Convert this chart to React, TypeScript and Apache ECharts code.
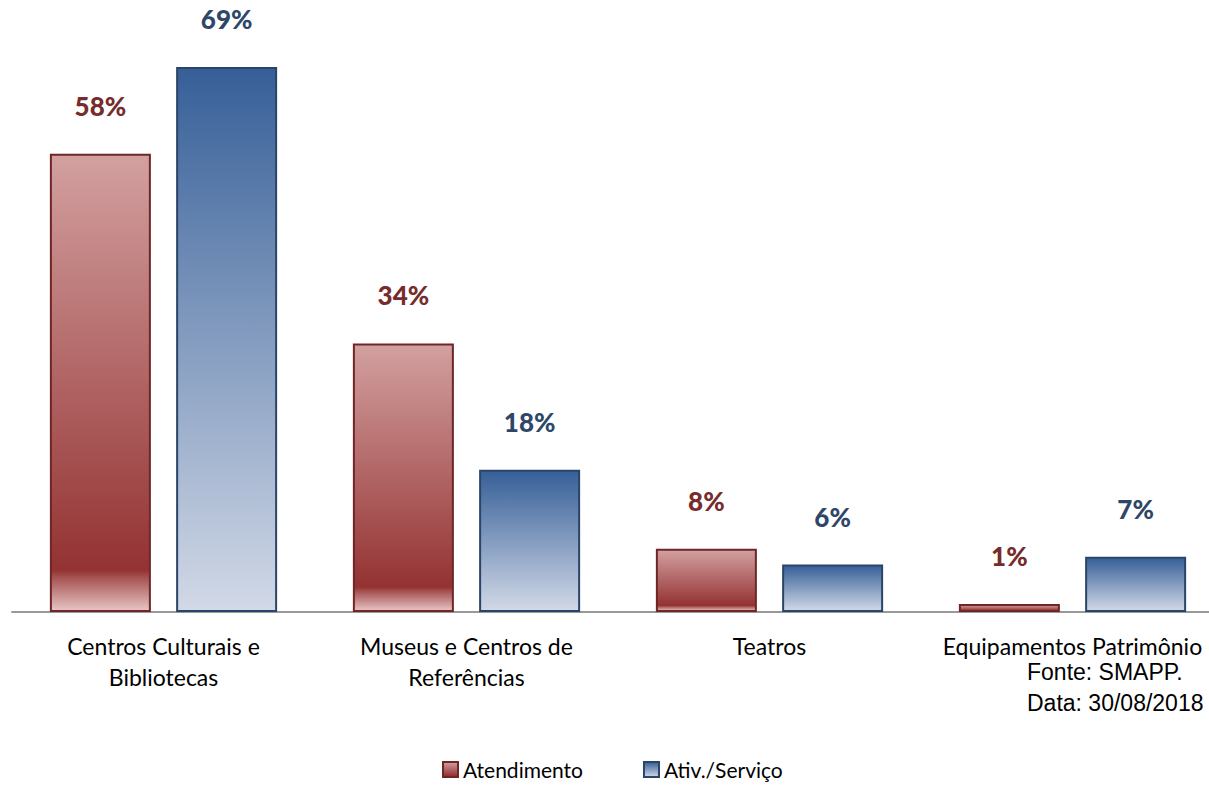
import React, { useEffect, useRef } from "react";
import * as echarts from "echarts";

const categories = ["Centros Culturais e\nBibliotecas", "Museus e Centros de\nReferências", "Teatros", "Equipamentos Patrimônio"];
const atendimento = [58, 34, 8, 1];
const ativServico = [69, 18, 6, 7];
const seriesNames = ["Atendimento", "Ativ./Serviço"];
const sourceLines = ["Fonte: SMAPP.", "Data: 30/08/2018"];

const redGrad = new echarts.graphic.LinearGradient(0, 0, 0, 1, [
  { offset: 0, color: "#d3a0a0" },
  { offset: 0.91, color: "#943232" },
  { offset: 0.93, color: "#a95858" },
  { offset: 1, color: "#e8c6c6" },
]);
const blueGrad = new echarts.graphic.LinearGradient(0, 0, 0, 1, [
  { offset: 0, color: "#365f98" },
  { offset: 1, color: "#d2d9e7" },
]);

export default function App() {
  const ref = useRef<HTMLDivElement>(null);
  useEffect(() => {
    const chart = echarts.init(ref.current!, null, { renderer: "svg" });
    const font = "Lato, 'Open Sans', sans-serif";
    chart.setOption({
      animation: false,
      grid: { left: 12, width: 1212, top: 59, height: 553, containLabel: false },
      legend: {
        bottom: 2,
        left: 437,
        icon: "rect",
        itemWidth: 15,
        itemHeight: 15,
        itemGap: 60,
        textStyle: { fontFamily: font, fontSize: 21, color: "#000" },
        data: seriesNames,
      },
      xAxis: {
        type: "category",
        data: categories,
        axisLine: { lineStyle: { color: "#999", width: 2 } },
        axisTick: { show: false },
        axisLabel: { fontFamily: font, fontSize: 23, color: "#000", lineHeight: 31, margin: 18, interval: 0 },
      },
      yAxis: { type: "value", min: 0, max: 70, show: false, splitLine: { show: false } },
      series: [
        {
          name: seriesNames[0],
          type: "bar",
          data: atendimento,
          barWidth: 101,
          barGap: "25%",
          itemStyle: { color: redGrad, borderColor: "#6e2626", borderWidth: 2 },
          label: {
            show: true, position: "top", distance: 35, formatter: "{c}%",
            fontFamily: font, fontSize: 26, fontWeight: 900, color: "#772c2c",
          },
        },
        {
          name: seriesNames[1],
          type: "bar",
          data: ativServico,
          barWidth: 101,
          itemStyle: { color: blueGrad, borderColor: "#2b4568", borderWidth: 2 },
          label: {
            show: true, position: "top", distance: 35, formatter: "{c}%",
            fontFamily: font, fontSize: 26, fontWeight: 900, color: "#2e4769",
          },
        },
      ],
      graphic: sourceLines.map((t, i) => ({
        type: "text",
        left: 1027,
        top: 660 + i * 31,
        style: { text: t, fontFamily: "'Liberation Sans', Arial, sans-serif", fontSize: 23, fill: "#000" },
      })),
    });
    return () => chart.dispose();
  }, []);
  return (
    <div style={{ position: "absolute", left: 0, top: 0, width: 1209, height: 787, overflow: "hidden" }}>
      <div ref={ref} style={{ width: 1240, height: 787 }} />
    </div>
  );
}
